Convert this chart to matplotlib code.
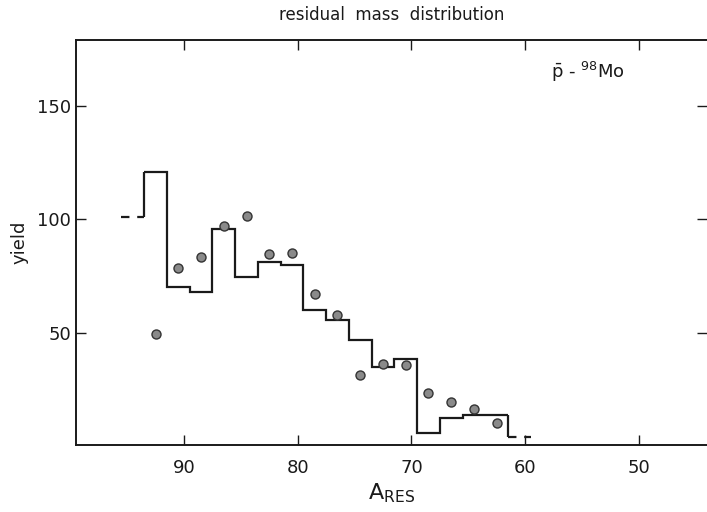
import matplotlib
matplotlib.use('Agg')
import matplotlib.pyplot as plt
import numpy as np

# histogram: calculated yield per residual mass bin (2 units wide)
a_bins = [94.5, 92.5, 90.5, 88.5, 86.5, 84.5, 82.5, 80.5, 78.5, 76.5, 74.5,
          72.5, 70.5, 68.5, 66.5, 64.5, 62.5, 60.5]
hist_yield = [101, 121, 70, 68, 95.5, 74.5, 81, 80, 60, 55.7, 47, 35, 38.3,
              5.8, 12.6, 14, 14, 4]

# measured points
a_exp = [92.5, 90.5, 88.5, 86.5, 84.5, 82.5, 80.5, 78.5, 76.5, 74.5, 72.5,
         70.5, 68.5, 66.5, 64.5, 62.5]
y_exp = [49.5, 78.5, 83.5, 97, 101.5, 84.5, 85, 67, 58, 31.5, 36.5, 36,
         23.5, 19.5, 16.5, 10.5]

x_ticks = [90, 80, 70, 60, 50]
y_ticks = [50, 100, 150]

plt.rcParams['mathtext.default'] = 'regular'
ink = '#1a1a1a'

fig = plt.figure(figsize=(7.07, 5.12), dpi=100)
ax = fig.add_axes([0.1075, 0.1303, 0.8925, 0.792])

centers = np.array(a_bins, dtype=float)
vals = np.array(hist_yield, dtype=float)
edges = np.append(centers + 1, centers[-1] - 1)

# solid inner part
ax.stairs(vals[1:-1], edges[1:-1], baseline=None, color=ink, lw=1.6)
# vertical joins to the dashed end bins
ax.vlines([edges[1], edges[-2]], [vals[0], vals[-1]], [vals[1], vals[-2]],
          color=ink, lw=1.6)
# dashed end bins
for i in (0, len(vals) - 1):
    ax.hlines(vals[i], edges[i], edges[i + 1], color=ink, lw=1.6,
              linestyle=(0, (3.8, 3.5)))

ax.plot(a_exp, y_exp, 'o', ms=6.5, mfc='#8a8a8a', mec='#333333', mew=1.0)

ax.set_xlim(99.5, 44.0)
ax.set_ylim(0.5, 179)
ax.set_xticks(x_ticks)
ax.set_yticks(y_ticks)
ax.tick_params(axis='both', direction='in', length=7, width=1.0, colors=ink,
               top=True, right=True, labelsize=13)
ax.tick_params(axis='x', pad=10)
for s in ax.spines.values():
    s.set_linewidth(1.4)
    s.set_color(ink)
ax.spines['right'].set_visible(False)

ax.set_title('residual  mass  distribution', fontsize=12, color=ink, pad=14)
ax.set_xlabel('$A_{RES}$', fontsize=16, color=ink, labelpad=3)
ax.set_ylabel('yield', fontsize=13, color=ink, labelpad=6)
ax.text(0.752, 0.92, r'$\bar{p}$ - $^{98}$Mo', transform=ax.transAxes,
        fontsize=13, color=ink, ha='left', va='center')

fig.savefig('out.png', dpi=100)
